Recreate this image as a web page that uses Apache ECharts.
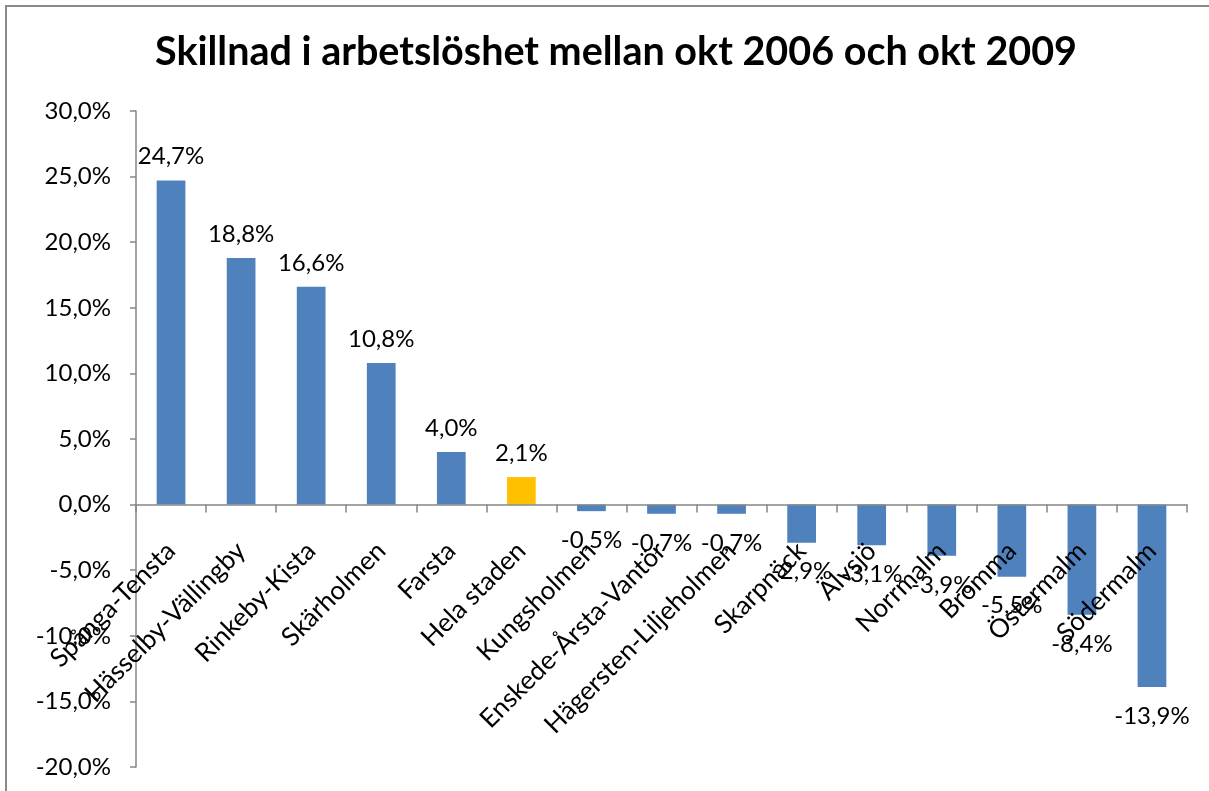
<!DOCTYPE html>
<html>
<head>
<meta charset="utf-8">
<title>Skillnad i arbetslöshet</title>
<script src="https://cdn.jsdelivr.net/npm/echarts@6/dist/echarts.min.js"></script>
<style>
    html, body { margin: 0; padding: 0; background: #fff; }
    #chart { width: 1209px; height: 791px; }
</style>
</head>
<body>
<div id="chart"></div>
<script>
    // stadsdelar, sorterade som i originalet
    var categories = ['Spånga-Tensta', 'Hässelby-Vällingby', 'Rinkeby-Kista', 'Skärholmen', 'Farsta',
        'Hela staden', 'Kungsholmen', 'Enskede-Årsta-Vantör', 'Hägersten-Liljeholmen', 'Skarpnäck',
        'Älvsjö', 'Norrmalm', 'Bromma', 'Östermalm', 'Södermalm'];
    // förändring i procentenheter
    var values = [24.7, 18.8, 16.6, 10.8, 4.0, 2.1, -0.5, -0.7, -0.7, -2.9, -3.1, -3.9, -5.5, -8.4, -13.9];
    var yTicks = { min: -20, max: 30, step: 5 };
    var highlight = 'Hela staden';

    var FONT = 'Lato';
    var AXIS_GRAY = '#868686';

    function pct(v) {
        return v.toFixed(1).replace('.', ',') + '%'
    }

    var barData = values.map(function (v, i) {
        return {
            value: v,
            itemStyle: { color: categories[i] === highlight ? '#FFC000' : '#4F81BD' },
            label: v >= 0 ? { position: 'top', distance: 12 } : { position: 'bottom', distance: 17 }
        }
    });

    var myChart = echarts.init(document.getElementById('chart'));
    myChart.setOption({
        animation: false,
        textStyle: { fontFamily: FONT },
        title: {
            text: 'Skillnad i arbetslöshet mellan okt 2006 och okt 2009',
            left: 150,
            top: 27,
            textStyle: { fontFamily: FONT, fontSize: 39.5, fontWeight: 'bold', color: '#000' }
        },
        // ram runt diagrammet
        graphic: [{
            type: 'rect',
            shape: { x: 6, y: 6, width: 1230, height: 820 },
            style: { fill: 'none', stroke: '#8a8a8a', lineWidth: 2 },
            silent: true
        }],
        grid: { left: 136, right: 22, top: 111, bottom: 24, containLabel: false, outerBoundsMode: 'none' },
        xAxis: {
            type: 'category',
            data: categories,
            position: 'bottom',
            offset: 0,
            z: 5,   // etiketterna ritas ovanpå staplarna
            axisLine: { onZero: false, lineStyle: { color: AXIS_GRAY, width: 1.5 } },
            axisTick: { show: true, length: 8, alignWithLabel: false, lineStyle: { color: AXIS_GRAY, width: 1.5 } },
            axisLabel: {
                interval: 0,
                rotate: 45,
                margin: 42,
                fontFamily: FONT,
                fontSize: 26,
                color: '#000'
            },
            splitLine: { show: false }
        },
        yAxis: {
            type: 'value',
            min: yTicks.min,
            max: yTicks.max,
            interval: yTicks.step,
            axisLine: { show: true, lineStyle: { color: AXIS_GRAY, width: 1.5 } },
            axisTick: { show: true, length: 6, lineStyle: { color: AXIS_GRAY, width: 1.5 } },
            axisLabel: {
                margin: 25,
                fontFamily: FONT,
                fontSize: 24,
                color: '#000',
                formatter: function (v) { return pct(v) }
            },
            splitLine: { show: false }
        },
        series: [{
            type: 'bar',
            data: barData,
            barWidth: '41%',
            z: 2,
            label: {
                show: true,
                fontFamily: FONT,
                fontSize: 24,
                color: '#000',
                formatter: function (p) { return pct(p.value) }
            }
        }]
    });

    // kategoriaxeln (linje, streck och etiketter) ska ligga vid 0 %, som i Excel
    var zeroY = myChart.convertToPixel({ yAxisIndex: 0 }, 0);
    var bottomY = myChart.convertToPixel({ yAxisIndex: 0 }, yTicks.min);
    myChart.setOption({ xAxis: { offset: zeroY - bottomY } });
</script>
</body>
</html>
